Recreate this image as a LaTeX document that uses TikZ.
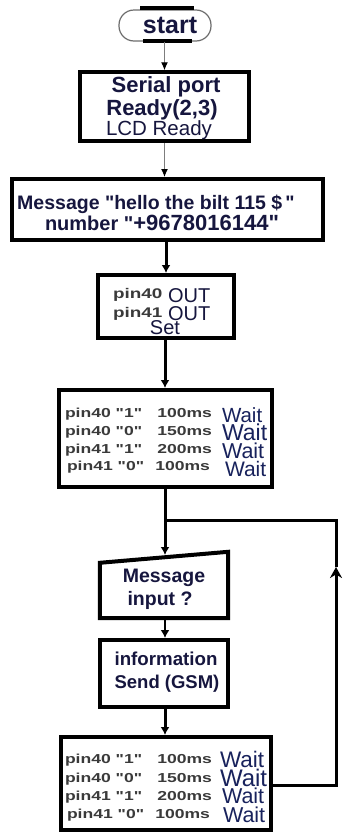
\documentclass[tikz,border=0pt]{standalone}
\usepackage{fontspec}
\setmainfont{Liberation Sans}[Ligatures=TeXOff]
\newfontfamily\widefont{Liberation Sans}[FakeStretch=1.35,Ligatures=TeXOff]
\usetikzlibrary{arrows.meta,calc}
\definecolor{navy}{RGB}{22,22,62}
\definecolor{pingray}{RGB}{58,58,58}
\definecolor{waitblue}{RGB}{24,34,92}
\definecolor{arrowgray}{RGB}{125,125,125}
\definecolor{startgray}{RGB}{110,110,110}
\newcommand{\fsz}[1]{\fontsize{#1}{#1}\selectfont}
\tikzset{
  box/.style={draw=black, line width=4pt, rectangle, inner sep=0pt},
  txt/.style={inner sep=0pt, outer sep=0pt, text=navy},
  pintxt/.style={inner sep=0pt, outer sep=0pt, text=pingray, font=\widefont\bfseries\fsz{13}},
  waittxt/.style={inner sep=0pt, outer sep=0pt, text=waitblue},
  thinarrow/.style={draw=arrowgray, line width=1pt, -{Latex[color=black,length=8pt,width=7pt]}},
  thickarrow/.style={draw=black, line width=3pt, -{Latex[length=8pt,width=9pt]}},
  conn/.style={draw=black, line width=3pt},
  bar/.style={draw=black, line width=4pt}
}
\begin{document}
\begin{tikzpicture}[x=1pt,y=-1pt]
\fill[white] (0,0) rectangle (344,833);
\useasboundingbox (0,0) rectangle (344,833);

% start terminator
\node[draw=startgray, line width=1.2pt, rounded corners=15pt, minimum width=92pt, minimum height=31pt, inner sep=0pt] (st) at (165,25.5) {};
\draw[bar] (140,8) -- (194,8);
\draw[bar] (143,41) -- (192,41);
\node[txt, anchor=base, font=\bfseries\fsz{25}] (sttxt) at (170,33) {start};

% box 1
\node[box, line width=3.5pt, minimum width=169pt, minimum height=69pt] (b1) at (164.5,106.5) {};
\node[txt, anchor=base, font=\bfseries\fsz{22}] (b1a) at (166,92) {Serial port};
\node[txt, anchor=base, font=\bfseries\fsz{22}] (b1b) at (162,115) {Ready(2,3)};
\node[txt, anchor=base, font=\fsz{20.5}] (b1c) at (159,135) {LCD Ready};

% box 2
\node[box, minimum width=311pt, minimum height=61pt] (b2) at (167.5,209.5) {};
\node[txt, anchor=base, font=\bfseries\fsz{19.5}] (b2a) at (156,209) {Message "hello the bilt 115 \$\,"};
\node[txt, anchor=base west, font=\bfseries] (b2b) at (45,230) {{\fsz{20}number "}{\fsz{22}+9678016144"}};

% box 3
\node[box, minimum width=136pt, minimum height=63pt] (b3) at (166,306.5) {};
\node[pintxt, anchor=base west, font=\widefont\bfseries\fsz{14}] (b3a) at (113,298) {pin40};
\node[txt, anchor=base west, font=\fsz{20}] (b3b) at (168,302) {OUT};
\node[pintxt, anchor=base west, font=\widefont\bfseries\fsz{14}] (b3c) at (113,317) {pin41};
\node[txt, anchor=base west, font=\fsz{20}] (b3d) at (168,320) {OUT};
\node[txt, anchor=base, font=\fsz{20}] (b3e) at (165,334) {Set};

% box 4
\node[box, minimum width=213pt, minimum height=97pt] (b4) at (165.5,438.5) {};
\node[pintxt, anchor=base west] (b4a) at (65,417) {\makebox[147pt]{pin40 "1"\hfill 100ms}};
\node[pintxt, anchor=base west] (b4b) at (65,435) {\makebox[147pt]{pin40 "0"\hfill 150ms}};
\node[pintxt, anchor=base west] (b4c) at (65,453) {\makebox[147pt]{pin41 "1"\hfill 200ms}};
\node[pintxt, anchor=base west] (b4d) at (67,470) {\makebox[143pt]{pin41 "0"\hfill 100ms}};
\node[waittxt, anchor=base west, font=\fsz{20.5}] (b4w1) at (222,422) {Wait};
\node[waittxt, anchor=base west, font=\fsz{23}] (b4w2) at (222,440) {Wait};
\node[waittxt, anchor=base west, font=\fsz{21.5}] (b4w3) at (222,458) {Wait};
\node[waittxt, anchor=base west, font=\fsz{21}] (b4w4) at (225,476) {Wait};

% box 5 (manual input)
\node[draw=none, minimum width=128pt, minimum height=66pt, inner sep=0pt] (b5) at (164,585) {};
\draw[line width=4pt, line join=miter] (b5.south west) -- (b5.south east) -- (b5.north east) -- ([yshift=-11pt]b5.north west) -- cycle;
\coordinate (b5top) at (165,555);
\node[txt, anchor=base, font=\bfseries\fsz{19.5}] (b5a) at (164,582) {Message};
\node[txt, anchor=base, font=\bfseries\fsz{19.5}] (b5b) at (160,605) {input ?};

% box 6
\node[box, minimum width=128pt, minimum height=67pt] (b6) at (164,673.5) {};
\node[txt, anchor=base, font=\bfseries\fsz{18.7}] (b6a) at (166,665) {information};
\node[txt, anchor=base, font=\bfseries\fsz{18.5}] (b6b) at (167,688) {Send (GSM)};

% box 7
\node[box, minimum width=210pt, minimum height=93pt] (b7) at (166,783.5) {};
\node[pintxt, anchor=base west] (b7a) at (65,763) {\makebox[147pt]{pin40 "1"\hfill 100ms}};
\node[pintxt, anchor=base west] (b7b) at (65,782) {\makebox[147pt]{pin40 "0"\hfill 150ms}};
\node[pintxt, anchor=base west] (b7c) at (65,800) {\makebox[147pt]{pin41 "1"\hfill 200ms}};
\node[pintxt, anchor=base west] (b7d) at (67,818) {\makebox[143pt]{pin41 "0"\hfill 100ms}};
\node[waittxt, anchor=base west, font=\fsz{22.5}] (b7w1) at (220,767) {Wait};
\node[waittxt, anchor=base west, font=\fsz{24}] (b7w2) at (220,786) {Wait};
\node[waittxt, anchor=base west, font=\fsz{21.5}] (b7w3) at (222,803) {Wait};
\node[waittxt, anchor=base west, font=\fsz{21.5}] (b7w4) at (223,822) {Wait};

% connectors
\coordinate (jn) at (165,520);
\coordinate (lp) at (336,567);
\draw[thinarrow] (st.south -| b1.north) -- (b1.north);
\draw[thinarrow] (b1.south) -- (b1.south |- b2.north);
\draw[thickarrow] (b3.north |- b2.south) -- (b3.north);
\draw[thickarrow] (b3.south -| jn) -- (b4.north -| jn);
\draw[conn] (b4.south -| jn) -- (jn);
\draw[thickarrow] (jn) -- (b5top);
\draw[thickarrow, line width=2.5pt] (b5.south -| jn) -- (b6.north -| jn);
\draw[thickarrow] (b6.south -| jn) -- (b7.north -| jn);
\draw[conn, -{Stealth[length=11pt,width=12pt]}] (b7.east |- 0,785) -| (lp);
\draw[conn] (lp) |- (jn);
\end{tikzpicture}
\end{document}
